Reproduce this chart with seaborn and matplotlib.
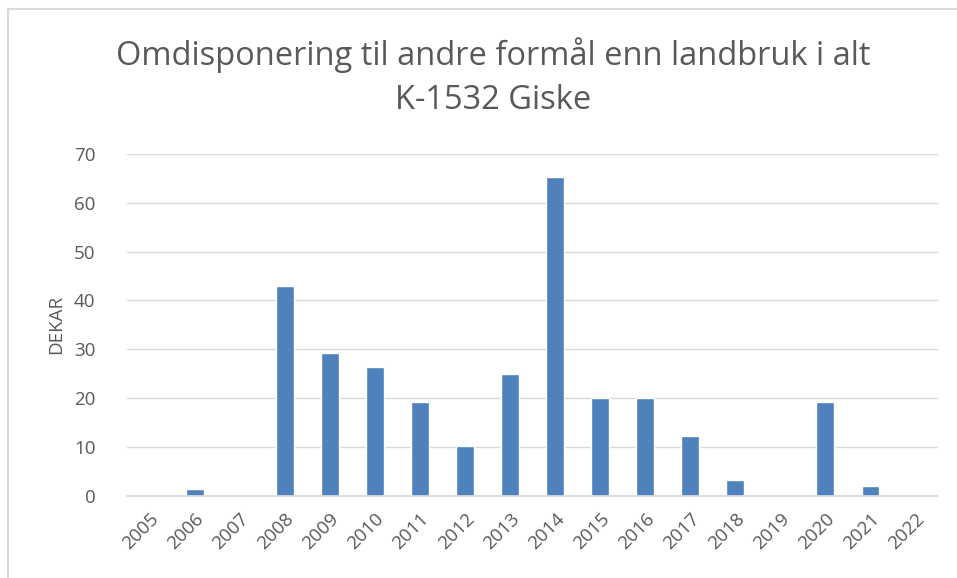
import matplotlib
matplotlib.use("Agg")
import matplotlib.pyplot as plt
import seaborn as sns
import pandas as pd
from matplotlib.lines import Line2D

# Data
years = [str(y) for y in range(2005, 2023)]
dekar = [0, 1.4, 0, 43.0, 29.2, 26.3, 19.3, 10.3, 25.0, 65.2,
         20.1, 20.1, 12.3, 3.3, 0, 19.3, 2.1, 0]
y_ticks = [0, 10, 20, 30, 40, 50, 60, 70]

df = pd.DataFrame({'year': years, 'dekar': dekar})

sns.set_theme(style='white')
plt.rcParams['font.family'] = ['Open Sans', 'DejaVu Sans']

fig = plt.figure(figsize=(9.57, 5.78), dpi=100)
ax = fig.add_axes([0.133, 0.142, 0.847, 0.592])

sns.barplot(data=df, x='year', y='dekar', color='#4F81BD', width=0.39,
            saturation=1, ax=ax)

ax.set_ylim(0, 70)
ax.set_yticks(y_ticks)
ax.set_xlim(-0.5, len(years) - 0.5)
ax.yaxis.grid(True, color='#D9D9D9', linewidth=1)
ax.set_axisbelow(True)
for s in ['top', 'right', 'left']:
    ax.spines[s].set_visible(False)
ax.spines['bottom'].set_color('#D9D9D9')
ax.tick_params(axis='both', length=0, colors='#595959', labelsize=13.5)
ax.tick_params(axis='y', pad=23)
ax.tick_params(axis='x', pad=10)
plt.setp(ax.get_xticklabels(), rotation=45, ha='right', rotation_mode='anchor')
ax.set_xlabel('')
ax.set_ylabel('DEKAR', color='#595959', fontsize=13.5, labelpad=6)

fig.text(0.515, 0.905, 'Omdisponering til andre formål enn landbruk i alt',
         ha='center', va='center', fontsize=23.5, color='#595959')
fig.text(0.515, 0.826, 'K-1532 Giske', ha='center', va='center',
         fontsize=23.5, color='#595959')

# frame around the chart area of the screenshot
fig.add_artist(Line2D([0.008, 0.008], [0, 0.985], transform=fig.transFigure,
                      color='#D9D9D9', linewidth=1.5))
fig.add_artist(Line2D([0.008, 1], [0.985, 0.985], transform=fig.transFigure,
                      color='#D9D9D9', linewidth=1.5))

fig.savefig('out.png', dpi=100)
